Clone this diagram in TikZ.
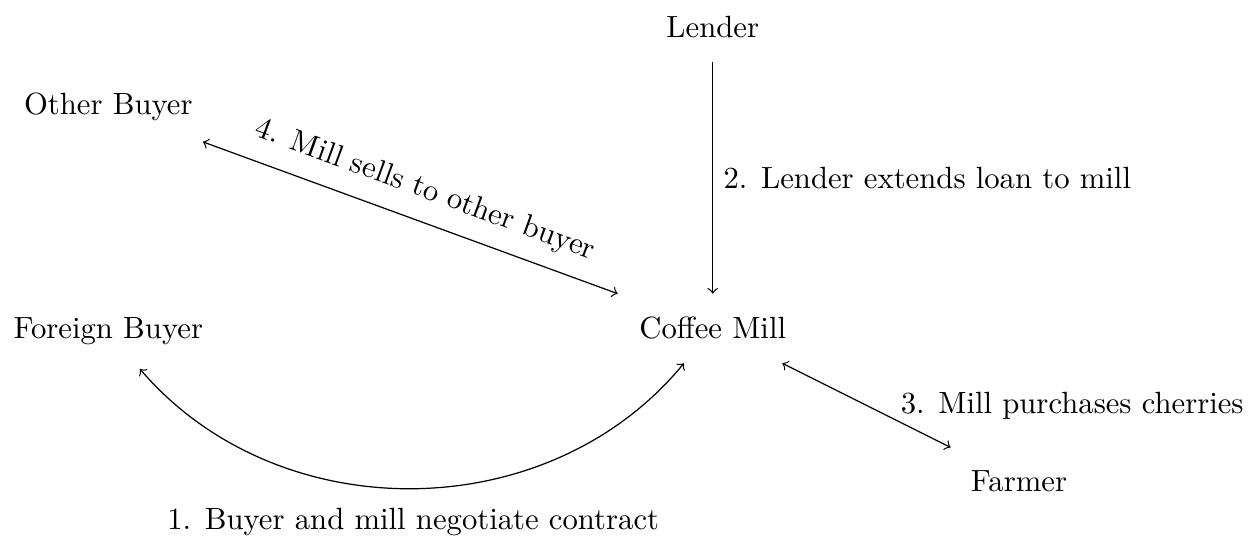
\documentclass[tikz,border=0pt]{standalone}
\begin{document}
\begin{tikzpicture}[
  party/.style={inner sep=7.5pt, anchor=base},
]
\useasboundingbox (0,0) rectangle (14.345,6.239);
% parties
\node[party] (lender) at (8.16,5.804) {Lender};
\node[party] (other) at (1.24,4.923) {Other Buyer};
\node[party] (foreign) at (1.24,2.358) {Foreign Buyer};
\node[party] (mill) at (8.16,2.358) {Coffee Mill};
\node[party] (farmer) at (11.666,0.607) {Farmer};
% steps
\draw[<->] (foreign) to[bend right=50] node[below=3pt] (contract) {1. Buyer and mill negotiate contract} (mill);
\draw[->] (lender) -- (mill) node[midway, right] (loan) {2. Lender extends loan to mill};
\draw[<->] (mill) -- (farmer) node[midway, right=0.27cm] (cherries) {3. Mill purchases cherries};
\draw[<->, shorten <=-0.1cm] (other) -- (mill) node[midway, sloped, above=2pt] (resale) {4. Mill sells to other buyer};
\end{tikzpicture}
\end{document}
